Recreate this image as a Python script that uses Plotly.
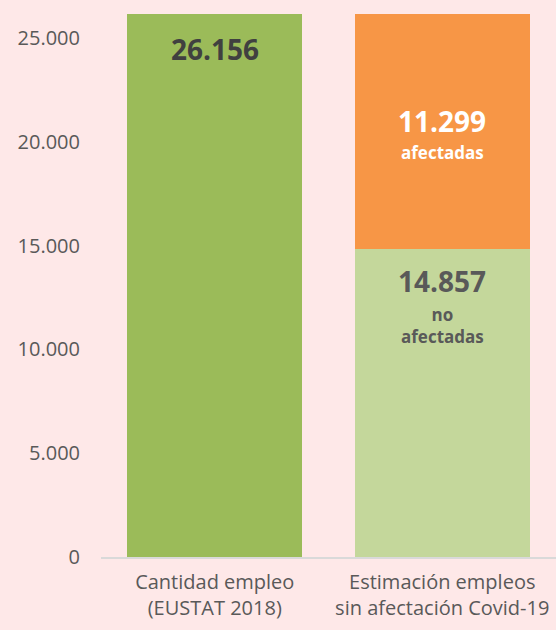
import plotly.graph_objects as go

categories = ["Cantidad empleo<br>(EUSTAT 2018)", "Estimación empleos<br>sin afectación Covid-19"]
total_empleo = [26156, None]
no_afectadas = [None, 14857]
afectadas = [None, 11299]
y_ticks = [0, 5000, 10000, 15000, 20000, 25000]

def fmt(v):
    return f"{v:,}".replace(",", ".")

FONT = "Open Sans"
fig = go.Figure()
fig.add_bar(x=categories, y=total_empleo, marker_color="#9BBB59", marker_line_width=0, hoverinfo="skip")
fig.add_bar(x=categories, y=no_afectadas, marker_color="#C4D79B", marker_line_width=0, hoverinfo="skip")
fig.add_bar(x=categories, y=afectadas, marker_color="#F79646", marker_line_width=0, hoverinfo="skip")

# labels
fig.add_annotation(x=categories[0], y=total_empleo[0], yanchor="top", yshift=-14, showarrow=False,
                   text="<b>" + fmt(total_empleo[0]) + "</b>", font=dict(family=FONT, size=28, color="#404040"))
top2 = no_afectadas[1] + afectadas[1]
fig.add_annotation(x=categories[1], y=top2, yanchor="top", yshift=-86, showarrow=False,
                   text="<b>" + fmt(afectadas[1]) + "</b>", font=dict(family=FONT, size=28, color="#FFFFFF"))
fig.add_annotation(x=categories[1], y=top2, yanchor="top", yshift=-125, showarrow=False,
                   text="<b>afectadas</b>", font=dict(family=FONT, size=17, color="#FFFFFF"))
fig.add_annotation(x=categories[1], y=no_afectadas[1], yanchor="top", yshift=-11, showarrow=False,
                   text="<b>" + fmt(no_afectadas[1]) + "</b>", font=dict(family=FONT, size=28, color="#595959"))
fig.add_annotation(x=categories[1], y=no_afectadas[1], yanchor="top", yshift=-52, showarrow=False,
                   text="<b>no<br>afectadas</b>", font=dict(family=FONT, size=17, color="#595959"))

fig.update_layout(
    barmode="stack",
    bargap=0.23,
    width=556, height=630,
    margin=dict(l=101, r=0, t=14, b=73),
    paper_bgcolor="#FEE8E8", plot_bgcolor="#FEE8E8",
    showlegend=False,
    separators=",.",
    xaxis=dict(showline=True, linecolor="#D9D9D9", linewidth=2, ticks="", showgrid=False,
               ticklabelstandoff=6,
               tickfont=dict(family=FONT, size=20, color="#595959"), fixedrange=True),
    yaxis=dict(range=[0, 26156], tickvals=y_ticks, ticktext=[fmt(v) for v in y_ticks],
               showgrid=False, zeroline=False, showline=False, ticks="",
               ticklabelstandoff=20,
               tickfont=dict(family=FONT, size=20, color="#595959"), fixedrange=True),
)
fig.write_html("out.html", config={"displayModeBar": False},
               post_script="document.body.style.margin='0';document.body.style.padding='0';")
